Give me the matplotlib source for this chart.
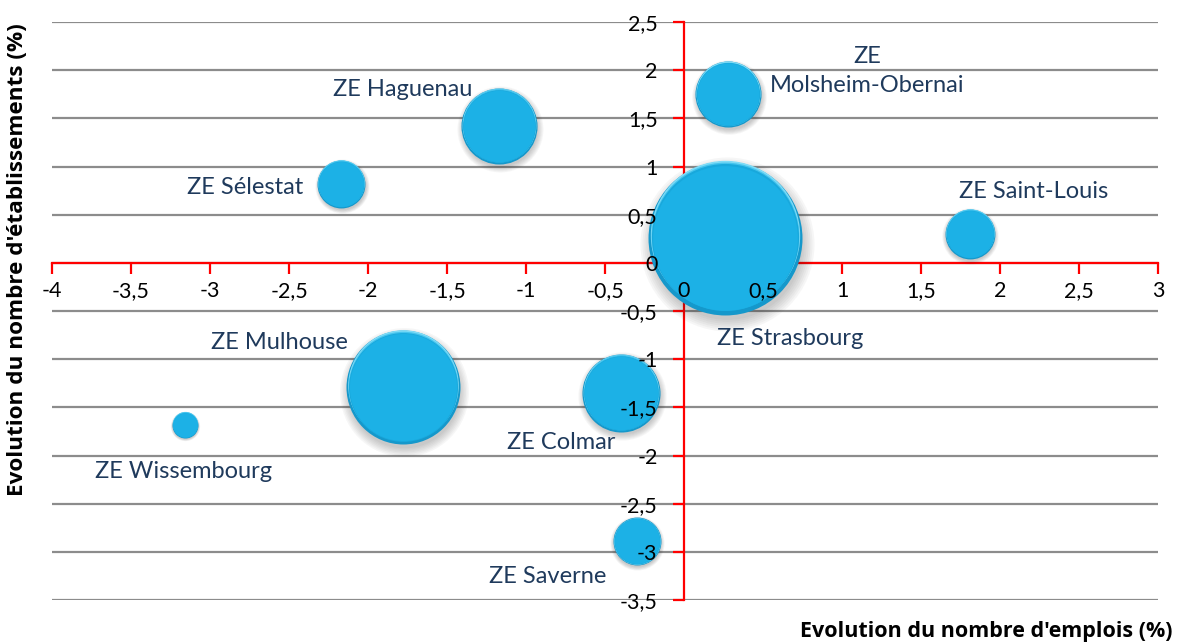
import matplotlib
matplotlib.use('Agg')
import matplotlib.pyplot as plt
from matplotlib.transforms import offset_copy
import numpy as np

# ---- data ----
zones = ["ZE Strasbourg", "ZE\nMolsheim-Obernai", "ZE Haguenau", "ZE Sélestat",
         "ZE Saint-Louis", "ZE Mulhouse", "ZE Colmar", "ZE Wissembourg", "ZE Saverne"]
evol_emplois = [0.26, 0.28, -1.17, -2.17, 1.81, -1.78, -0.40, -3.16, -0.30]
evol_etab = [0.26, 1.75, 1.42, 0.82, 0.30, -1.29, -1.35, -1.68, -2.89]
taille = [100, 18.4, 24.4, 9.7, 10.5, 54.8, 25.7, 2.85, 9.7]  # relative bubble size (area)

xticks = [-4, -3.5, -3, -2.5, -2, -1.5, -1, -0.5, 0, 0.5, 1, 1.5, 2, 2.5, 3]
yticks = [-3.5, -3, -2.5, -2, -1.5, -1, -0.5, 0, 0.5, 1, 1.5, 2, 2.5]

# label placement (data coords)
label_pos = {
    "ZE Strasbourg": (0.67, -0.79),
    "ZE\nMolsheim-Obernai": (1.16, 1.99),
    "ZE Haguenau": (-1.78, 1.80),
    "ZE Sélestat": (-2.78, 0.78),
    "ZE Saint-Louis": (2.215, 0.74),
    "ZE Mulhouse": (-2.56, -0.83),
    "ZE Colmar": (-0.78, -1.86),
    "ZE Wissembourg": (-3.17, -2.17),
    "ZE Saverne": (-0.86, -3.26),
}

def fmt(v):
    return ('%g' % v).replace('.', ',')

FONT = 'Lato'
plt.rcParams['font.family'] = [FONT, 'DejaVu Sans']

fig = plt.figure(figsize=(11.86, 6.43), dpi=100)
pos = [52 / 1186, 1 - 600 / 643, (1158 - 52) / 1186, (600 - 22) / 643]
ax = fig.add_axes(pos)
ax.set_xlim(-4, 3)
ax.set_ylim(-3.5, 2.5)
ax.set_axisbelow(True)

red = '#ff0000'
for sp in ['top', 'right']:
    ax.spines[sp].set_visible(False)
for sp in ['left', 'bottom']:
    ax.spines[sp].set_position(('data', 0))
    ax.spines[sp].set_color(red)
    ax.spines[sp].set_linewidth(1.6)
ax.set_xticks(xticks)
ax.set_yticks(yticks)
ax.tick_params(axis='both', colors=red, length=8, width=1.6, direction='out',
               labelleft=False, labelbottom=False)
ax.yaxis.grid(True, color='#8c8c8c', linewidth=1.6)
ax.xaxis.grid(False)

# bubbles
k = 122.9
sizes = np.array(taille) * k
for xi, yi, s in zip(evol_emplois, evol_etab, sizes):
    r = np.sqrt(s) / 2.0  # radius in points
    # soft shadow
    for j in range(7):
        f = 0.98 + 0.025 * j
        tr = offset_copy(ax.transData, fig=fig, x=0.02 * r, y=-0.08 * r, units='points')
        ax.scatter([xi], [yi], s=s * f * f, color='#303030', alpha=0.04,
                   linewidths=0, transform=tr, zorder=4)
    ax.scatter([xi], [yi], s=s, color='#1598cb', linewidths=0, zorder=5)
    tr = offset_copy(ax.transData, fig=fig, x=0, y=0.03 * r, units='points')
    ax.scatter([xi], [yi], s=s * 0.97 ** 2, color='#7fdcf7', linewidths=0, transform=tr, zorder=5.1)
    tr = offset_copy(ax.transData, fig=fig, x=0, y=0.02 * r, units='points')
    ax.scatter([xi], [yi], s=s * 0.96 ** 2, color='#45c4ee', linewidths=0, transform=tr, zorder=5.2)
    tr = offset_copy(ax.transData, fig=fig, x=0, y=0.004 * r, units='points')
    ax.scatter([xi], [yi], s=s * 0.955 ** 2, color='#18a8dc', linewidths=0, transform=tr, zorder=5.3)
    ax.scatter([xi], [yi], s=s * 0.94 ** 2, color='#1cb1e6', linewidths=0, zorder=5.4)

# labels
for name in zones:
    lx, ly = label_pos[name]
    ax.text(lx, ly, name, ha='center', va='center', fontsize=17, color='#1f3a5c',
            linespacing=1.5, zorder=7)

# overlay axes for tick labels (drawn above bubbles)
ax2 = fig.add_axes(pos, sharex=ax, sharey=ax)
ax2.patch.set_visible(False)
for sp in ax2.spines.values():
    sp.set_visible(False)
ax2.spines['left'].set_position(('data', 0))
ax2.spines['bottom'].set_position(('data', 0))
ax2.set_xticks(xticks)
ax2.set_yticks(yticks)
ax2.set_xticklabels([fmt(v) for v in xticks])
ax2.set_yticklabels([fmt(v) for v in yticks])
ax2.tick_params(axis='both', length=0, labelsize=15.5, colors='black')
ax2.tick_params(axis='y', pad=19)
ax2.tick_params(axis='x', pad=13)
ax2.grid(False)

fig.text(1172 / 1186, 1 - 632 / 643, "Evolution du nombre d'emplois (%)", ha='right',
         va='center', fontsize=15.5, fontweight='bold', color='black',
         family=['Open Sans', 'DejaVu Sans'])
fig.text(18 / 1186, 1 - 260 / 643, "Evolution du nombre d'établissements (%)", ha='center',
         va='center', rotation=90, fontsize=16.2, fontweight='bold', color='black',
         family=['Open Sans', 'DejaVu Sans'])

fig.savefig('out.png', dpi=100)
